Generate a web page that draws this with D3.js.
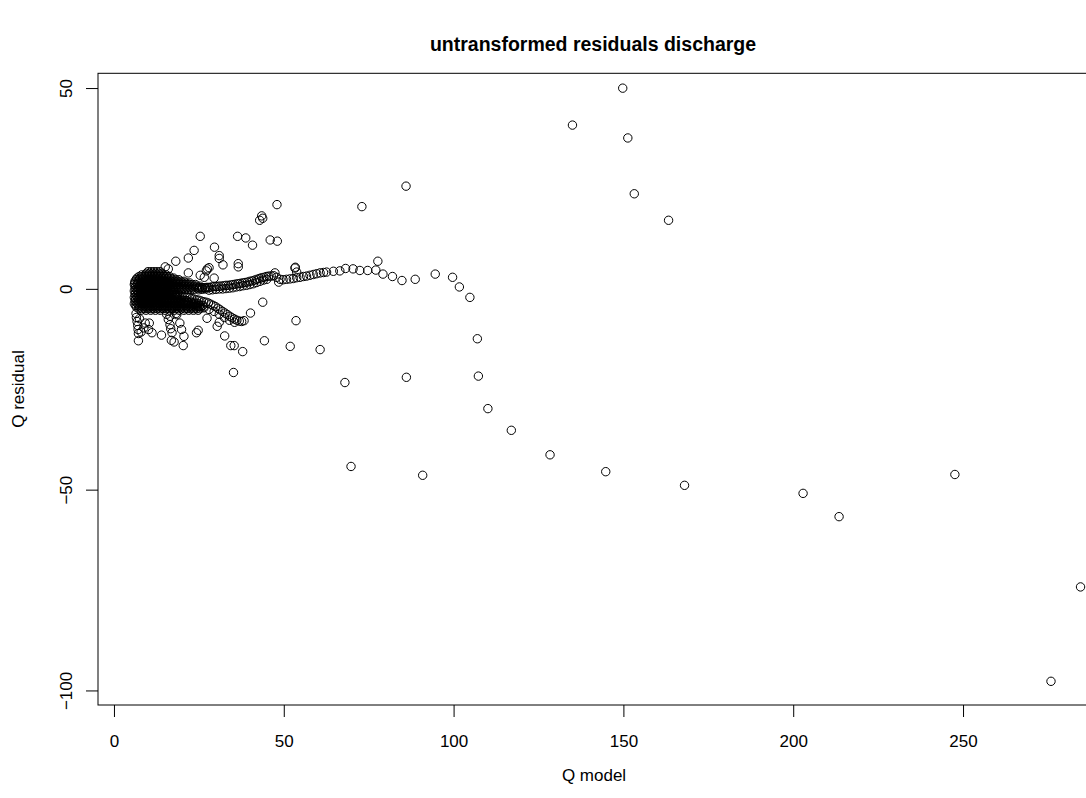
<!DOCTYPE html>
<meta charset="utf-8">
<style>
  body { margin: 0; background: #fff; }
  text { font-family: "Liberation Sans", Arial, sans-serif; fill: #000; }
  .pt { fill: none; stroke: #000; stroke-width: 1; }
</style>
<body>
<svg width="1086" height="798"></svg>
<script src="https://d3js.org/d3.v7.min.js"></script>
<script>

// values
// dense core near the origin: [Q residual, list of Q model values]
var coreRows = [
  [4.4,  [10.0,10.9,11.8,12.7,13.6]],
  [4.0,  [9.6,10.5,11.4,12.3,13.2,14.1]],
  [3.6,  [8.2,9.1,10.0,10.9,11.8,12.7,13.6,14.5,15.4]],
  [3.2,  [7.4,8.3,9.2,10.1,11.0,11.9,12.8,13.7,14.6,15.5,16.4]],
  [2.8,  [6.8,7.7,8.6,9.5,10.4,11.3,12.2,13.1,14.0,14.9,15.8,16.7,17.6]],
  [2.4,  [6.5,7.4,8.3,9.2,10.1,11.0,11.9,12.8,13.7,14.6,15.5,16.4,17.3,18.2,19.1]],
  [2.0,  [6.2,7.1,8.0,8.9,9.8,10.7,11.6,12.5,13.4,14.3,15.2,16.1,17.0,17.9,18.8,19.7,20.6]],
  [1.6,  [6.1,7.0,7.9,8.8,9.7,10.6,11.5,12.4,13.3,14.2,15.1,16.0,16.9,17.8,18.7,19.6,20.5,21.4,22.3]],
  [1.2,  [6.0,6.9,7.8,8.7,9.6,10.5,11.4,12.3,13.2,14.1,15.0,15.9,16.8,17.7,18.6,19.5,20.4,21.3,22.2,23.1,24.0]],
  [0.8,  [6.4,7.3,8.2,9.1,10.0,10.9,11.8,12.7,13.6,14.5,15.4,16.3,17.2,18.1,19.0,19.9,20.8,21.7,22.6,23.5,24.4,25.3]],
  [0.4,  [6.2,7.1,8.0,8.9,9.8,10.7,11.6,12.5,13.4,14.3,15.2,16.1,17.0,17.9,18.8,19.7,20.6,21.5,22.4,23.3,24.2,25.1,26.0,26.9,27.8]],
  [0.0,  [6.5,7.4,8.3,9.2,10.1,11.0,11.9,12.8,13.7,14.6,15.5,16.4,17.3,18.2,19.1,20.0,20.9,21.8,22.7,23.6]],
  [-0.4, [6.0,6.9,7.8,8.7,9.6,10.5,11.4,12.3,13.2,14.1,15.0,15.9,16.8,17.7]],
  [-0.8, [6.4,7.3,8.2,9.1,10.0,10.9,11.8,12.7,13.6,14.5,15.4,16.3,17.2]],
  [-1.2, [6.2,7.1,8.0,8.9,9.8,10.7,11.6,12.5,13.4,14.3,15.2,16.1,17.0,17.9,18.8]],
  [-1.6, [6.5,7.4,8.3,9.2,10.1,11.0,11.9,12.8,13.7,14.6,15.5,16.4,17.3,18.2]],
  [-2.0, [6.0,6.9,7.8,8.7,9.6,10.5,11.4,12.3,13.2,14.1,15.0,15.9,16.8,17.7,18.6]],
  [-2.4, [6.4,7.3,8.2,9.1,10.0,10.9,11.8,12.7,13.6,14.5,15.4,16.3,17.2,18.1,19.0,19.9]],
  [-2.8, [6.2,7.1,8.0,8.9,9.8,10.7,11.6,12.5,13.4,14.3,15.2,16.1,17.0,17.9,18.8,19.7,20.6,21.5]],
  [-3.2, [6.5,7.4,8.3,9.2,10.1,11.0,11.9,12.8,13.7,14.6,15.5,16.4,17.3,18.2,19.1,20.0,20.9,21.8,22.7,23.6]],
  [-3.6, [6.0,6.9,7.8,8.7,9.6,10.5,11.4,12.3,13.2,14.1,15.0,15.9,16.8,17.7,18.6,19.5,20.4,21.3,22.2,23.1,24.0,24.9]],
  [-4.0, [6.4,7.3,8.2,9.1,10.0,10.9,11.8,12.7,13.6,14.5,15.4,16.3,17.2,18.1,19.0,19.9,20.8,21.7,22.6,23.5,24.4,25.3,26.2]],
  [-4.4, [6.6,7.5,8.4,9.3,10.2,11.1,12.0,12.9,13.8,14.7,15.6,16.5,17.4,18.3,19.2,20.1,21.0,21.9,22.8,23.7,24.6,25.5,26.4]],
  [-4.8, [7.3,8.2,9.1,10.0,10.9,11.8,12.7,13.6,14.5,15.4,16.3,17.2,18.1,19.0,19.9,20.8,21.7,22.6,23.5,24.4,25.3]],
  [-5.2, [8.0,9.4,10.8,12.2,13.6,15.0,16.4,17.8,19.2,20.6,22.0,23.4,24.8]]
];

// [Q model, Q residual]
var upperBranch = [
  [24.6,0.3],[25.3,0.3],[26.0,0.4],[26.7,0.4],[27.4,0.5],[28.1,0.5],[28.8,0.6],[29.5,0.7],[30.2,0.7],
  [30.9,0.8],[31.6,0.8],[32.3,0.9],[33.0,1.0],[33.7,1.0],[34.4,1.1],[35.1,1.2],[35.8,1.3],[36.5,1.4],
  [37.2,1.5],[37.9,1.6],[38.6,1.7],[39.3,1.8],[40.0,2.0],[40.7,2.1],[41.4,2.3],[42.1,2.5],[42.8,2.7],
  [43.5,2.9],[44.2,3.0],[44.9,3.2],[45.6,3.3],[46.3,3.3],[47.0,3.4],
  [47.9,3.0],[48.9,2.5],[49.8,2.4],[50.8,2.5],[51.8,2.6],[52.8,2.7],[53.8,2.9],
  [54.8,3.0],[55.8,3.2],[56.7,3.3],[57.7,3.5],[58.7,3.7],[59.7,3.9],[60.7,4.1],[61.7,4.2],[62.6,4.3],
  [64.6,4.5],[66.5,4.6],[68.2,5.2],[70.4,5.1],[72.4,4.7],[74.7,4.7],[77.1,4.8],[77.7,7.0],[79.2,3.8],
  [82.0,3.2],[84.8,2.2],[88.7,2.5],[94.6,3.8],[99.7,3.0],[101.7,0.6],[104.8,-2.0],
  [25,-0.1],[26,0],[27,0.1],[28,-0.2],[29,-0.1],[30,0],[31,0.1],[32,0.1],[33,0.2],[34,0.3],[35,0.4],
  [36,0.6],[37,0.7],[38,0.9],[39,1.0],[40,1.2],[41,1.4],[42,1.7],[43,2.0],[44,2.3],[45,2.5],[47.4,4.1],
  [53.3,5.3],[53.8,4.3],[48.5,1.8]
];

var lowerBranch = [
  [18.0,-1.5],[18.7,-1.6],[19.4,-1.7],[20.1,-1.8],[20.8,-1.9],[21.5,-2.0],[22.2,-2.1],[22.9,-2.3],
  [23.6,-2.4],[24.3,-2.6],[25.0,-2.7],[25.7,-2.9],[26.4,-3.1],[27.1,-3.2],[27.8,-3.4],[28.5,-3.7],
  [29.2,-4.0],[29.9,-4.3],[30.6,-4.7],[31.3,-5.1],[32.0,-5.5],[32.7,-5.9],[33.4,-6.3],[34.1,-6.7],
  [34.8,-7.1],[35.5,-7.4],[36.2,-7.7],[36.9,-7.9],[37.6,-8.0],[38.3,-7.8],
  [22,-3.3],[23.5,-3.7],[25,-4.2],[26.5,-4.6],[28,-5.0],[29.5,-5.5],[31,-6.2],[32.5,-7.0],[34,-7.7],[35.5,-8.2]
];

var lowerFingers = [
  [6.5,-6.0],[6.6,-7.0],[6.8,-8.0],[7.0,-9.0],[7.1,-10.0],[7.2,-11.0],
  [7.5,-7.3],[7.2,-12.8],[8.0,-10.6],[8.8,-9.6],[9.2,-8.4],[10.4,-8.4],[11.2,-10.8],[10.2,-10.0],
  [14.0,-11.4],[15.5,-6.2],[16.0,-7.5],[16.5,-8.8],[16.7,-9.8],[16.9,-12.7],[17.7,-13.1],[17.1,-10.8],
  [19.4,-8.4],[18.5,-6.3],[20.4,-14.0],[20.6,-11.7],[19.9,-10.0],[24.3,-10.8],[24.8,-10.2],
  [16.5,-6.7],[18.3,-6.0],[27.4,-7.2],[30.4,-9.2],[31.0,-8.2],[32.6,-11.6],[34.4,-14.0],[35.4,-14.0],
  [37.9,-15.5],[35.2,-20.7],[40.2,-5.9],[43.8,-3.2],[44.3,-12.8],[51.9,-14.2],[53.6,-7.8]
];

var scatterAbove = [
  [18.2,7.0],[21.9,7.8],[15.1,5.6],[16.0,5.1],[23.6,9.7],[25.4,13.2],[29.6,10.5],[31.0,8.4],[31.0,7.7],
  [32.1,6.1],[27.5,5.1],[28.0,5.4],[27.2,4.6],[21.9,4.1],[25.4,3.5],[26.6,3.0],[29.5,2.8],[36.6,6.4],
  [36.6,5.6],[36.4,13.2],[38.8,12.8],[40.8,11.0],[46.0,12.3],[48.1,12.0],[43.5,18.3],[43.8,17.7],
  [42.9,17.2],[48.0,21.1],[53.4,5.5]
];

var farPoints = [
  [149.8,50.1],[135.0,40.9],[151.3,37.7],[153.2,23.8],[163.3,17.2],[86.0,25.7],[73.0,20.6],
  [107.0,-12.3],[86.1,-21.9],[107.3,-21.6],[110.1,-29.7],[117.0,-35.1],[128.4,-41.2],[144.8,-45.4],
  [168.0,-48.8],[90.9,-46.3],[60.7,-15.0],[68.0,-23.2],[69.8,-44.1],
  [202.9,-50.8],[213.5,-56.6],[247.6,-46.1],[284.6,-74.1],[275.9,-97.6]
];

var xTicks = [0, 50, 100, 150, 200, 250];
var yTicks = [50, 0, -50, -100];

var svg = d3.select("svg");

var x = d3.scaleLinear().domain([-4.7, 296.1]).range([98, 1119.6]);
var y = d3.scaleLinear().domain([-103.5, 53.8]).range([705, 73.3]);

var corePts = [];
coreRows.forEach(function(r) {
  r[1].forEach(function(v) { corePts.push([v, r[0]]); });
});

var allPts = corePts.concat(upperBranch, lowerBranch, lowerFingers, scatterAbove, farPoints);

svg.append("g").selectAll("circle")
  .data(allPts)
  .enter().append("circle")
  .attr("class", "pt")
  .attr("cx", d => x(d[0]))
  .attr("cy", d => y(d[1]))
  .attr("r", 4.2);

// box
svg.append("rect")
  .attr("x", x.range()[0]).attr("y", y.range()[1])
  .attr("width", x.range()[1] - x.range()[0])
  .attr("height", y.range()[0] - y.range()[1])
  .attr("fill", "none").attr("stroke", "#000").attr("stroke-width", 1);

// axes, R style
var xAxis = svg.append("g")
  .attr("transform", "translate(0," + y.range()[0] + ")")
  .call(d3.axisBottom(x).tickValues(xTicks).tickSize(12).tickPadding(18).tickFormat(d3.format("d")));
xAxis.select(".domain").remove();
xAxis.selectAll("text").attr("font-size", 17).attr("font-family", "Liberation Sans, Arial, sans-serif");

var yAxis = svg.append("g")
  .attr("transform", "translate(" + x.range()[0] + ",0)")
  .call(d3.axisLeft(y).tickValues(yTicks).tickSize(12).tickFormat(d => d < 0 ? "\u2212" + Math.abs(d) : d));
yAxis.select(".domain").remove();
yAxis.selectAll("text")
  .attr("font-size", 17)
  .attr("font-family", "Liberation Sans, Arial, sans-serif")
  .attr("transform", d => "translate(" + (-26.5) + "," + y(d) + ") rotate(-90)")
  .attr("x", 0).attr("y", 0).attr("dy", 0)
  .attr("text-anchor", "middle");
yAxis.selectAll(".tick").attr("transform", null);
yAxis.selectAll(".tick line").attr("y1", d => y(d)).attr("y2", d => y(d));

svg.append("text")
  .attr("x", 593).attr("y", 51)
  .attr("text-anchor", "middle")
  .attr("font-size", 19.5).attr("font-weight", "bold")
  .text("untransformed residuals discharge");

svg.append("text")
  .attr("x", 594).attr("y", 781)
  .attr("text-anchor", "middle")
  .attr("font-size", 17)
  .text("Q model");

svg.append("text")
  .attr("transform", "translate(24," + 389 + ") rotate(-90)")
  .attr("text-anchor", "middle")
  .attr("font-size", 17)
  .text("Q residual");

</script>
</body>
